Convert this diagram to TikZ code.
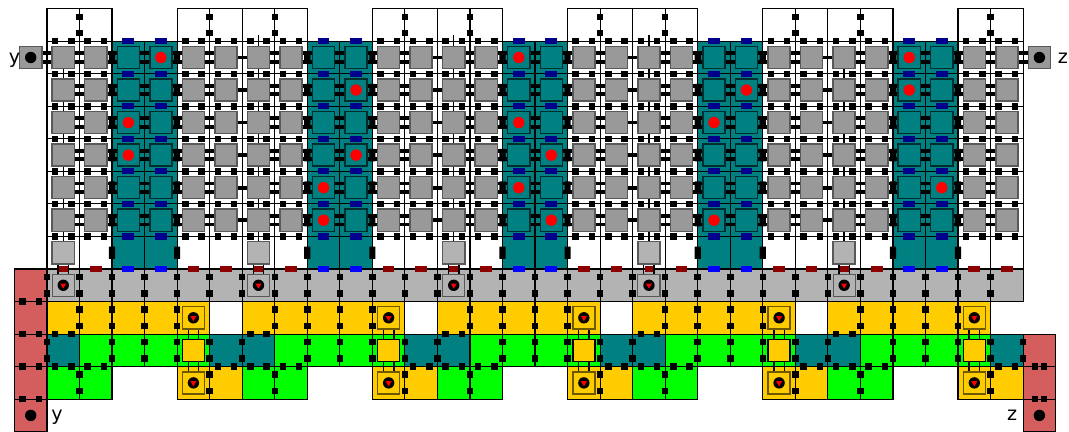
\documentclass[tikz,border=0pt]{standalone}
\usepackage{fontspec}
\setmainfont{DejaVu Sans}
\usepackage{tikz}
\usetikzlibrary{shapes.geometric}

\definecolor{tealtile}{RGB}{0,128,128}
\definecolor{graycell}{RGB}{153,153,153}
\definecolor{lightcell}{RGB}{179,179,179}
\definecolor{yellowtile}{RGB}{255,204,0}
\definecolor{greentile}{RGB}{0,255,0}
\definecolor{redtile}{RGB}{212,94,94}
\definecolor{navygate}{RGB}{0,0,140}
\definecolor{bluegate}{RGB}{0,0,255}
\definecolor{redgate}{RGB}{140,0,0}
\definecolor{tealedge}{RGB}{0,45,45}
\definecolor{yellowedge}{RGB}{110,88,0}

\tikzset{
    gridline/.style={line width=1pt,black},
    cellbase/.style={rectangle,inner sep=0pt,minimum size=0.68cm,line width=1.3pt},
    qubit/.style={cellbase,fill=graycell,draw=black!65},
    tealqubit/.style={cellbase,fill=tealtile,draw=tealedge},
    lightqubit/.style={cellbase,fill=lightcell,draw=black!65},
    yellowqubit/.style={cellbase,fill=yellowtile,draw=yellowedge},
    middlequbit/.style={cellbase,fill=yellowtile,draw=black},
    gate/.style={rectangle,fill=black,inner sep=0pt,minimum size=0.2cm},
    tallgate/.style={rectangle,fill=black,rounded corners=0.3pt,inner sep=0pt,minimum width=0.19cm,minimum height=0.38cm},
    flatgate/.style={rectangle,inner sep=0pt,minimum width=0.36cm,minimum height=0.19cm},
    reddot/.style={circle,fill=red,inner sep=0pt,minimum size=0.35cm},
    blackdot/.style={circle,fill=black,inner sep=0pt,minimum size=0.35cm},
    redmark/.style={regular polygon,regular polygon sides=3,shape border rotate=180,fill=red,inner sep=0pt,minimum size=0.21cm},
    wide link/.style={line width=3.3pt,black},
    thin link/.style={line width=1.2pt,black},
    label/.style={anchor=base,font=\fontsize{16.7}{18}\selectfont}
}

\begin{document}
\begin{tikzpicture}[y=-1cm]
    \useasboundingbox (-1.444,-0.267) rectangle (31.41,13.009);
    % tiles
    \fill[lightcell] (0,8) rectangle (30,9);
    \fill[redtile] (-1,8) rectangle (0,13);
    \fill[redtile] (30,10) rectangle (31,13);
    \foreach \k in {0,...,4}{
        \pgfmathtruncatemacro{\off}{6*\k}
        \begin{scope}[shift={(\off,0)}]
            \fill[tealtile] (2,1) rectangle (4,8);
            \fill[yellowtile] (0,9) rectangle (5,10);
            \fill[tealtile] (0,10) rectangle (1,11);
            \fill[greentile] (1,10) rectangle (5,11);
            \fill[tealtile] (5,10) rectangle (6,11);
            \fill[greentile] (0,11) rectangle (2,12);
            \fill[yellowtile] (4,11) rectangle (6,12);
            % outlines of the lower tiles
            \draw[gridline] (0,9) rectangle (5,10);
            \draw[gridline] (0,11) rectangle (2,12);
            \draw[gridline] (4,11) rectangle (6,12);
            \draw[gridline] (1,11) -- (1,12);
            \draw[gridline] (5,11) -- (5,12);
            \foreach \gx in {1,...,4}
                \draw[gridline] (\gx,9) -- (\gx,10);
            % top frames
            \draw[gridline] (0,1) |- (2,0) -- (2,1);
            \draw[gridline] (1,0) -- (1,1);
            \node[gate] (ta\k) at (1,0.25) {};
            \node[gate] (tb\k) at (1,0.75) {};
        \end{scope}
    }
    \foreach \k in {1,...,5}{
        \pgfmathtruncatemacro{\off}{6*\k}
        \begin{scope}[shift={(\off,0)}]
            \draw[gridline] (-2,1) |- (0,0) -- (0,1);
            \draw[gridline] (-1,0) -- (-1,1);
            \node[gate] (tc\k) at (-1,0.25) {};
            \node[gate] (td\k) at (-1,0.75) {};
        \end{scope}
    }
    % grid lines
    \foreach \gy in {1,...,8}
        \draw[gridline] (0,\gy) -- (30,\gy);
    \draw[gridline] (-1,9) -- (30,9);
    \draw[gridline] (-1,10) -- (31,10);
    \draw[gridline] (-1,11) -- (31,11);
    \draw[gridline] (-1,12) -- (0,12);
    \draw[gridline] (30,12) -- (31,12);
    \foreach \gx in {0,...,30}{
        \draw[gridline] (\gx,1) -- (\gx,9);
        \draw[gridline] (\gx,10) -- (\gx,11);
    }
    \draw[gridline] (-1,8) rectangle (0,13);
    \draw[gridline] (30,10) rectangle (31,13);
    % qubits of the upper block
    \foreach \ry in {1,...,6}{
        \foreach \cx in {0,...,29}{
            \pgfmathtruncatemacro{\m}{mod(\cx,6)}
            \ifnum\m=2 \def\qstyle{tealqubit}\else\ifnum\m=3 \def\qstyle{tealqubit}\else\def\qstyle{qubit}\fi\fi
            \node[\qstyle] (c\cx-\ry) at (\cx+0.5,\ry+0.5) {};
        }
    }
    \foreach \k in {0,...,4}{
        \pgfmathtruncatemacro{\cx}{6*\k}
        \pgfmathtruncatemacro{\cy}{6*\k+4}
        \node[lightqubit] (c\cx-7) at (\cx+0.5,7.5) {};
        \node[lightqubit,line width=0.9pt] (b\cx) at (\cx+0.5,8.5) {};
        \node[yellowqubit] (u\k) at (\cy+0.5,9.5) {};
        \node[middlequbit] (v\k) at (\cy+0.5,10.5) {};
        \node[yellowqubit] (w\k) at (\cy+0.5,11.5) {};
        % links between the boxes
        \foreach \sx in {-0.16,0.16}{
            \draw[thin link] ([xshift=\sx cm]c\cx-7.south) -- ([xshift=\sx cm]b\cx.north);
            \draw[thin link] ([xshift=\sx cm]u\k.south) -- ([xshift=\sx cm]v\k.north);
            \draw[thin link] ([xshift=\sx cm]v\k.south) -- ([xshift=\sx cm]w\k.north);
        }
        % vertical stubs of the first column of each block
        \foreach \ry in {1,...,6}{
            \pgfmathtruncatemacro{\rz}{\ry+1}
            \draw[thin link] (c\cx-\ry.south) -- (c\cx-\rz.north);
        }
        \foreach \mk in {b\cx,u\k,w\k}{
            \node[blackdot] (dot\mk) at (\mk) {};
            \node[redmark] (mark\mk) at (\mk) {};
        }
    }
    \foreach \cx in {6,12,18}
        \draw[thin link] (c\cx-1.north) -- ++(0,-0.33);
    % links inside the rows
    \foreach \ry in {1,...,6}{
        \foreach \cx in {0,...,28}{
            \pgfmathtruncatemacro{\nx}{\cx+1}
            \pgfmathtruncatemacro{\m}{mod(\cx,6)}
            \ifnum\m=5
                \draw[wide link] (c\cx-\ry.east) -- (c\nx-\ry.west);
            \else
                \foreach \sy in {-0.13,0.13}
                    \draw[wide link] ([yshift=\sy cm]c\cx-\ry.east) -- ([yshift=\sy cm]c\nx-\ry.west);
            \fi
        }
    }
    % gates on the horizontal lines
    \foreach \gy in {1,...,7}{
        \foreach \cx in {0,...,29}{
            \pgfmathtruncatemacro{\m}{mod(\cx,6)}
            \ifnum\m=2
                \node[flatgate,fill=navygate] (n\cx-\gy) at (\cx+0.5,\gy) {};
            \else\ifnum\m=3
                \node[flatgate,fill=navygate] (n\cx-\gy) at (\cx+0.5,\gy) {};
            \else
                \node[gate] (l\cx-\gy) at (\cx+0.25,\gy) {};
                \node[gate] (r\cx-\gy) at (\cx+0.75,\gy) {};
            \fi\fi
        }
    }
    \foreach \cx in {0,...,29}{
        \pgfmathtruncatemacro{\m}{mod(\cx,6)}
        \ifnum\m=2
            \node[flatgate,fill=bluegate] (n\cx-8) at (\cx+0.5,8) {};
        \else\ifnum\m=3
            \node[flatgate,fill=bluegate] (n\cx-8) at (\cx+0.5,8) {};
        \else\ifnum\m=0
            \node[flatgate,fill=redgate,minimum width=0.27cm] (n\cx-8) at (\cx+0.5,8) {};
        \else
            \node[flatgate,fill=redgate] (n\cx-8) at (\cx+0.5,8) {};
        \fi\fi\fi
        % lines y=10 and y=11
        \ifnum\m=0
            \node[gate] (la\cx) at (\cx+0.25,10) {};
            \node[gate] (ra\cx) at (\cx+0.75,10) {};
        \fi
        \ifnum\m=4 \else\ifnum\m=2 \else\ifnum\m=3 \else
            \node[gate] (lb\cx) at (\cx+0.25,11) {};
            \node[gate] (rb\cx) at (\cx+0.75,11) {};
        \fi\fi\fi
    }
    % gates on the vertical lines
    \foreach \gx in {0,...,29}{
        \pgfmathtruncatemacro{\m}{mod(\gx,6)}
        \node[gate] (e\gx) at (\gx,8.25) {};
        \node[gate] (f\gx) at (\gx,8.75) {};
        \ifnum\m=0 \else\ifnum\m=5 \else
            \node[gate] (g\gx) at (\gx,9.25) {};
            \node[gate] (h\gx) at (\gx,9.75) {};
        \fi\fi
        \ifnum\m=2
            \node[tallgate] (s\gx) at (\gx,7.5) {};
            \foreach \ry in {1,...,6}
                \node[tallgate] (s\gx-\ry) at (\gx,\ry+0.5) {};
        \fi
        \ifnum\m=4
            \node[tallgate] (s\gx) at (\gx,7.5) {};
            \foreach \ry in {1,...,6}
                \node[tallgate] (s\gx-\ry) at (\gx,\ry+0.5) {};
        \fi
        \ifnum\m=1
            \node[gate] (j\gx) at (\gx,11.25) {};
            \node[gate] (k\gx) at (\gx,11.75) {};
        \else\ifnum\m=5
            \node[gate] (j\gx) at (\gx,11.25) {};
            \node[gate] (k\gx) at (\gx,11.75) {};
            \node[gate] (o\gx) at (\gx,10.25) {};
            \node[gate] (p\gx) at (\gx,10.75) {};
        \else
            \node[gate] (o\gx) at (\gx,10.25) {};
            \node[gate] (p\gx) at (\gx,10.75) {};
        \fi\fi
    }
    \node[gate] (o30) at (30,10.25) {};
    \node[gate] (p30) at (30,10.75) {};
    % gates on the red tiles
    \foreach \gy in {9,...,12}{
        \node[gate] (rl\gy) at (-0.75,\gy) {};
        \node[gate] (rr\gy) at (-0.25,\gy) {};
    }
    \foreach \gy in {11,12}{
        \node[gate] (sl\gy) at (30.36,\gy) {};
        \node[gate] (sr\gy) at (30.64,\gy) {};
    }
    % red dots
    \foreach \cx/\ry in {3/1,14/1,26/1,9/2,21/2,26/2,2/3,14/3,20/3,2/4,9/4,15/4,8/5,14/5,27/5,8/6,15/6,20/6}
        \node[reddot] (d\cx-\ry) at (c\cx-\ry) {};
    % ports y and z
    \node[qubit] (py) at (-0.5,1.5) {};
    \node[qubit] (pz) at (30.5,1.5) {};
    \foreach \sy in {-0.13,0.13}{
        \draw[wide link] ([yshift=\sy cm]py.east) -- ([yshift=\sy cm]c0-1.west);
        \draw[wide link] ([yshift=\sy cm]c29-1.east) -- ([yshift=\sy cm]pz.west);
    }
    \node[blackdot] (dy) at (py) {};
    \node[blackdot] (dz) at (pz) {};
    \node[blackdot] (ey) at (-0.5,12.5) {};
    \node[blackdot] (ez) at (30.5,12.5) {};
    \node[label] (ly) at (-1.0,1.68) {y};
    \node[label] (lz) at (31.22,1.68) {z};
    \node[label] (my) at (0.31,12.67) {y};
    \node[label] (mz) at (29.66,12.67) {z};
\end{tikzpicture}
\end{document}
